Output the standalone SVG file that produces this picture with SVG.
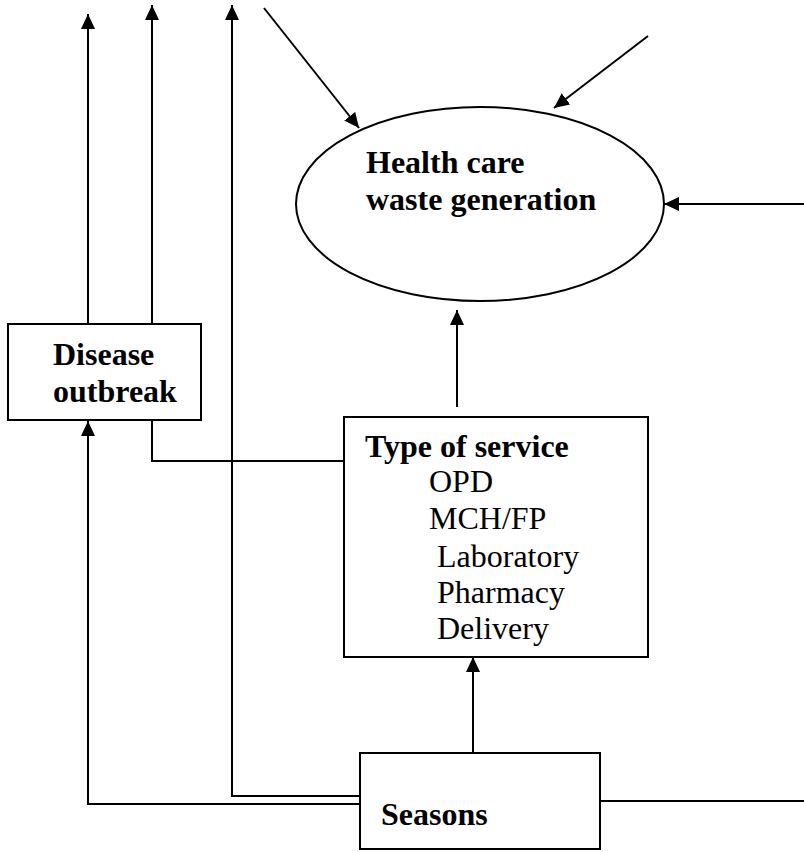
<svg xmlns="http://www.w3.org/2000/svg" width="804" height="852" viewBox="0 0 804 852">
<style>
.shape{fill:#fff;stroke:#000;stroke-width:2}
.c{fill:none;stroke:#000;stroke-width:2}
.b{font-family:"Liberation Serif","Times New Roman",serif;font-weight:bold;font-size:32px;fill:#000}
.r{font-family:"Liberation Serif","Times New Roman",serif;font-size:32px;fill:#000}
</style>
<defs>
<marker id="ah" markerUnits="userSpaceOnUse" markerWidth="16" markerHeight="14" refX="15" refY="7" orient="auto">
<path d="M0,0 L15,7 L0,14 z" fill="#000"/>
</marker>
</defs>
<rect width="804" height="852" fill="#fff"/>
<g id="connectors">
<line class="c" x1="88" y1="324" x2="88" y2="14" marker-end="url(#ah)"/>
<line class="c" x1="152" y1="324" x2="152" y2="5" marker-end="url(#ah)"/>
<path class="c" d="M360,796 L232,796 L232,5" marker-end="url(#ah)"/>
<path class="c" d="M360,804 L88,804 L88,421" marker-end="url(#ah)"/>
<path class="c" d="M152,420 L152,461 L344,461"/>
<line class="c" x1="264" y1="8" x2="359" y2="128" marker-end="url(#ah)"/>
<line class="c" x1="648" y1="36" x2="554" y2="108" marker-end="url(#ah)"/>
<line class="c" x1="804" y1="204" x2="664" y2="204" marker-end="url(#ah)"/>
<line class="c" x1="600" y1="801" x2="804" y2="801"/>
<line class="c" x1="457" y1="407" x2="457" y2="310" marker-end="url(#ah)"/>
<line class="c" x1="473" y1="753" x2="473" y2="657" marker-end="url(#ah)"/>
</g>
<g id="health-care-waste">
<ellipse class="shape" cx="480" cy="204" rx="184" ry="97"/>
<text class="b" x="366" y="173">Health care</text>
<text class="b" x="366" y="210">waste generation</text>
</g>
<g id="disease-outbreak">
<rect class="shape" x="8" y="324" width="193" height="96"/>
<text class="b" x="53" y="365">Disease</text>
<text class="b" x="53" y="402">outbreak</text>
</g>
<g id="type-of-service">
<rect class="shape" x="344" y="417" width="304" height="240"/>
<text class="b" x="365" y="457">Type of service</text>
<text class="r" x="429" y="492">OPD</text>
<text class="r" x="429" y="529">MCH/FP</text>
<text class="r" x="437" y="567">Laboratory</text>
<text class="r" x="437" y="603">Pharmacy</text>
<text class="r" x="437" y="639">Delivery</text>
</g>
<g id="seasons">
<rect class="shape" x="360" y="753" width="240" height="96"/>
<text class="b" x="381" y="825">Seasons</text>
</g>
</svg>
